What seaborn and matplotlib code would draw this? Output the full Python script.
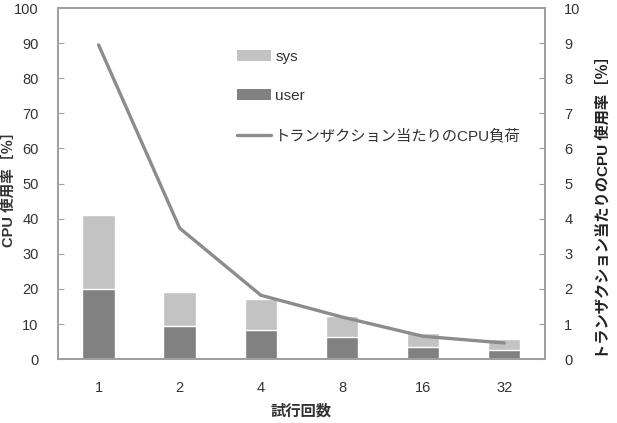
import numpy as np
import pandas as pd
import matplotlib
matplotlib.use("Agg")
import matplotlib.pyplot as plt
import seaborn as sns
from matplotlib.patches import Patch
from matplotlib.lines import Line2D

# data
trials = ["1", "2", "4", "8", "16", "32"]
user = [20, 9.3, 8.3, 6.3, 3.5, 2.7]
sys_ = [21, 9.7, 8.7, 6.0, 3.9, 3.0]
load = [8.95, 3.73, 1.82, 1.2, 0.65, 0.46]

sns.set_style("white")
plt.rcParams['font.family'] = ['Liberation Sans', 'Noto Sans CJK JP', 'DejaVu Sans']

df = pd.DataFrame({"trial": trials, "user": user, "sys": sys_})
df["total"] = df["user"] + df["sys"]

c_sys = "#c3c3c3"
c_user = "#818181"
c_line = "#8c8c8c"
c_spine = "#a0a0a0"

fig = plt.figure(figsize=(6.17, 4.23), dpi=100)
ax = fig.add_axes([0.094, 0.151, 0.789, 0.830])

sns.barplot(data=df, x="trial", y="total", order=trials, color=c_sys, width=0.4,
            saturation=1, ax=ax)
sns.barplot(data=df, x="trial", y="user", order=trials, color=c_user, width=0.4,
            saturation=1, ax=ax)

ax2 = ax.twinx()
sns.lineplot(x=np.arange(len(trials)), y=load, color=c_line, linewidth=2.4, ax=ax2)

ax.set_xlim(-0.5, len(trials) - 0.5)
ax.set_ylim(0, 100)
ax.set_yticks(range(0, 101, 10))
ax2.set_ylim(0, 10)
ax2.set_yticks(range(0, 11))

ax.set_xticks(np.arange(0.5, len(trials) - 0.5, 1), minor=True)
ax.tick_params(axis="x", which="major", length=0, pad=16, labelsize=10.5, labelcolor="#333333")
ax.tick_params(axis="x", which="minor", direction="in", length=4, color=c_spine, width=1)
ax.tick_params(axis="y", direction="in", length=4, color=c_spine, labelsize=10.5,
               labelcolor="#333333", pad=14, left=True)
ax2.tick_params(axis="y", direction="in", length=4, color=c_spine, labelsize=10.5,
                labelcolor="#333333", pad=14, right=True)

for a in (ax, ax2):
    for s in a.spines.values():
        s.set_color(c_spine)
        s.set_linewidth(1.3)

ax.set_xlabel("試行回数", fontsize=11, fontweight="bold", color="#333333", labelpad=6)
ax.set_ylabel("CPU 使用率［％］", fontsize=10.5, fontweight="bold", color="#333333")
ax.yaxis.set_label_coords(-0.086, 0.493)
ax2.set_ylabel("トランザクション当たりのCPU 使用率［％］", fontsize=11, fontweight="bold",
               color="#222222")
ax2.yaxis.set_label_coords(1.105, 0.444)

handles = [Patch(facecolor=c_sys, edgecolor="none"),
           Patch(facecolor=c_user, edgecolor="none"),
           Line2D([0], [0], color=c_line, linewidth=2.4)]
labels = ["sys", "user", "トランザクション当たりのCPU負荷"]
ax2.legend(handles, labels, loc="upper left", bbox_to_anchor=(0.34, 0.92), frameon=False,
           fontsize=11, labelspacing=1.65, handlelength=2.2, handleheight=0.75,
           handletextpad=0.3, labelcolor="#333333")

fig.savefig("out.png", dpi=100)
